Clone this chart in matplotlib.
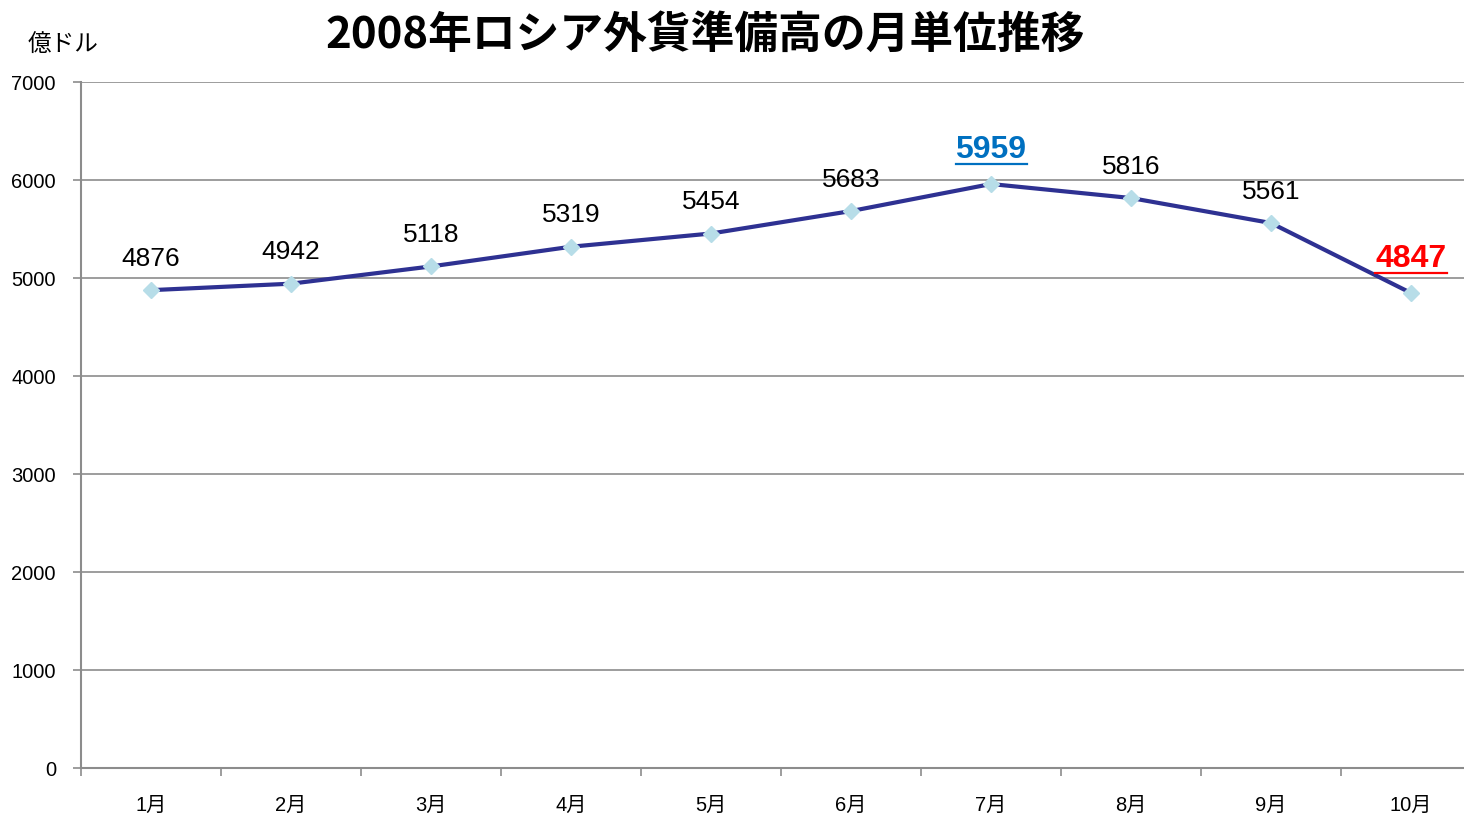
import matplotlib.pyplot as plt
from matplotlib.ticker import FixedLocator

plt.rcParams['font.family'] = ['Liberation Sans', 'Noto Sans CJK JP', 'DejaVu Sans']

# data
months = ["1月", "2月", "3月", "4月", "5月", "6月", "7月", "8月", "9月", "10月"]
reserves = [4876, 4942, 5118, 5319, 5454, 5683, 5959, 5816, 5561, 4847]
y_ticks = [0, 1000, 2000, 3000, 4000, 5000, 6000, 7000]

W, H = 1464, 814
fig = plt.figure(figsize=(W / 100, H / 100), dpi=100)
# plot area in pixels: left 81, top 82, bottom 768, one category = 140px
ax = fig.add_axes([81 / W, (H - 768) / H, 1400 / W, (768 - 82) / H])

x = list(range(len(months)))
ax.plot(x, reserves, color="#2E3192", lw=3, zorder=3)
ax.plot(x, reserves, ls="none", marker="D", ms=8, color="#B7DDE8",
        markeredgecolor="#B7DDE8", zorder=4)

ax.set_xlim(-0.5, len(months) - 0.5)
ax.set_ylim(0, 7000)
ax.set_yticks(y_ticks)
ax.set_yticklabels([str(v) for v in y_ticks], fontsize=14.5)
ax.yaxis.grid(True, color="#8c8c8c", lw=1.2)
ax.set_axisbelow(True)

ax.set_xticks(x)
ax.set_xticklabels(months, fontsize=14.5)
ax.xaxis.set_minor_locator(FixedLocator([i + 0.5 for i in range(-1, len(months))]))
ax.tick_params(axis="x", which="major", length=0, pad=20)
ax.tick_params(axis="x", which="minor", length=6, color="#8c8c8c", width=1.2)
ax.tick_params(axis="y", length=6, color="#8c8c8c", width=1.2, pad=12)

for side in ["top", "right"]:
    ax.spines[side].set_visible(False)
for side in ["left", "bottom"]:
    ax.spines[side].set_color("#8c8c8c")
    ax.spines[side].set_linewidth(1.5)

# value labels
highlight = {6: "#0070C0", 9: "#FF0000"}
underlined = []
for i, v in enumerate(reserves):
    if i in highlight:
        t = ax.annotate(str(v), (i, v), xytext=(0, 14), textcoords="offset points",
                        ha="center", va="bottom", fontsize=23, fontweight="bold",
                        color=highlight[i])
        underlined.append(t)
    else:
        ax.annotate(str(v), (i, v), xytext=(0, 14), textcoords="offset points",
                    ha="center", va="bottom", fontsize=19, color="black")

fig.text(28 / W, 1 - 45 / H, "億ドル", fontsize=17, ha="left", va="center",
         family=["Noto Sans CJK JP", "DejaVu Sans"])
fig.text(705 / W, 1 - 35 / H, "2008年ロシア外貨準備高の月単位推移", fontsize=31.5,
         fontweight="bold", ha="center", va="center",
         family=["Noto Sans CJK JP", "DejaVu Sans"])

# underline the highlighted labels
fig.canvas.draw()
r = fig.canvas.get_renderer()
for t in underlined:
    bb = t.get_window_extent(r)
    y0 = bb.y0 + 1
    fig.add_artist(plt.Line2D([bb.x0 / W, bb.x1 / W], [y0 / H, y0 / H],
                              color=t.get_color(), lw=1.6,
                              transform=fig.transFigure))

fig.savefig("out.png", dpi=100)
